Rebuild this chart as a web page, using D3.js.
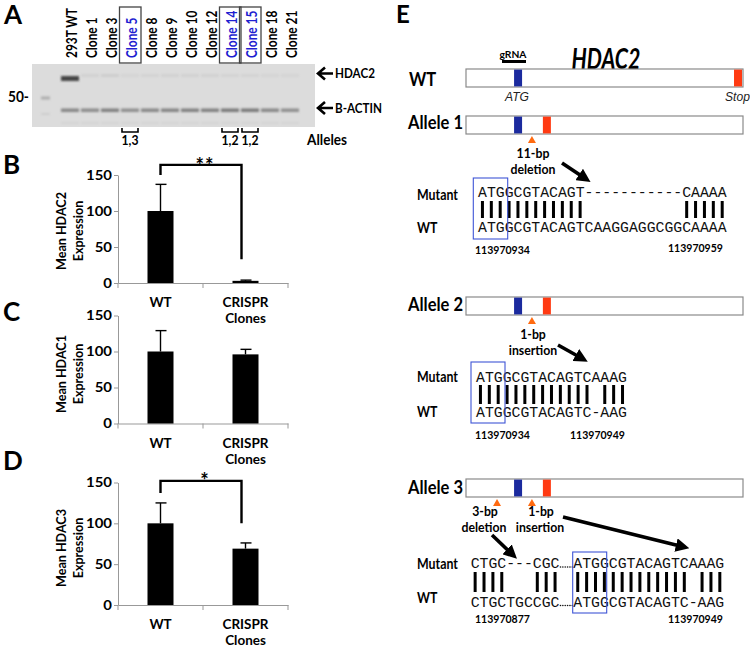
<!DOCTYPE html>
<html><head><meta charset="utf-8">
<script src="https://cdn.jsdelivr.net/npm/d3@7"></script>
<style>
body{margin:0;background:#fff}
svg{display:block}
</style></head>
<body><svg id="fig" width="750" height="646" font-family="Lato,'Open Sans',sans-serif"></svg>
<script>
// ---------------- DATA ----------------
// Panel A: western blot
const lanes = ["293T WT","Clone 1","Clone 3","Clone 5","Clone 8","Clone 9","Clone 10","Clone 12","Clone 14","Clone 15","Clone 18","Clone 21"];
const highlightedLanes = ["Clone 5","Clone 14","Clone 15"];
const hdac2Band = [0.8,0.06,0.08,0.04,0.05,0.06,0.06,0.06,0.05,0.05,0.04,0.04];
const actinBand = [0.45,0.42,0.48,0.4,0.44,0.46,0.48,0.48,0.52,0.52,0.44,0.4];
const bracketLanes = ["Clone 5","Clone 14","Clone 15"];
const bracketLabels = ["1,3","1,2","1,2"];
const blotMarkers = ["HDAC2","B-ACTIN"];
const ladderLabel = "50-";

// Panels B-D: bar charts
const groups = ["WT","CRISPR Clones"];
const yTicks = [0,50,100,150];
const hdac2Mean = [100,3],  hdac2Err = [37,1];
const hdac1Mean = [100,96], hdac1Err = [29,7];
const hdac3Mean = [100,69], hdac3Err = [25,7];

// Panel E: gene schematic and alignments
const geneRows = ["WT","Allele 1","Allele 2","Allele 3"];
const atgPos = 18.8;                 // gene units (0-100)
const stopPos = [98.2,29.2,29.2,29.2];
const mutationMarks = [[],[23.8],[23.8],[11.2,23.8]];
const mutationText = [[],["11-bp","deletion"],["1-bp","insertion"],["3-bp","deletion","1-bp","insertion"]];
const alignMutant = [["ATGGCGTACAGT-----------CAAAA"],["ATGGCGTACAGTCAAAG"],["CTGC---CGC","ATGGCGTACAGTCAAAG"]];
const alignWT     = [["ATGGCGTACAGTCAAGGAGGCGGCAAAA"],["ATGGCGTACAGTC-AAG"],["CTGCTGCCGC","ATGGCGTACAGTC-AAG"]];
const coordLabels = [["113970934","113970959"],["113970934","113970949"],["113970877","113970949"]];

// ---------------- HELPERS ----------------
const svg = d3.select("#fig");
const F = "Lato,'Open Sans',sans-serif";
const MONO = "'Liberation Mono','Courier New',monospace";
const ARIAL = "'Liberation Sans',Arial,sans-serif";
function fit(str, width, o={}) {
  const t = svg.append("text").attr("font-family",o.family||F).attr("font-weight",o.weight||"bold")
    .attr("font-style",o.style||"normal").attr("font-size",100).text(str);
  const w = t.node().getComputedTextLength(); t.remove();
  return 100*width/w;
}
function T(parent, str, x, y, o={}) {
  const t = parent.append("text").attr("font-family",o.family||F).attr("font-weight",o.weight||"bold")
    .attr("font-style",o.style||"normal").attr("text-anchor",o.anchor||"start").attr("fill",o.fill||"#000")
    .attr("font-size",o.size||14).text(str);
  t.attr("transform",`translate(${x},${y})`+(o.rotate?` rotate(${o.rotate})`:"")+(o.sy?` scale(1,${o.sy})`:""));
  return t;
}

// ---------------- DRAW ----------------
svg.append("rect").attr("width",750).attr("height",646).attr("fill","#fff");
const defs = svg.append("defs");
defs.append("filter").attr("id","blur").attr("x","-20%").attr("y","-100%").attr("width","140%").attr("height","300%")
  .append("feGaussianBlur").attr("stdDeviation",1.0);
defs.append("marker").attr("id","ah").attr("viewBox","0 0 10 10").attr("refX",6).attr("refY",5)
  .attr("markerWidth",3.8).attr("markerHeight",3.8).attr("orient","auto")
  .append("path").attr("d","M0,0 L10,5 L0,10 z").attr("fill","#000");

// panel letters
T(svg,"A",4,24,{size:26,sy:1.05}); T(svg,"B",3,174,{size:26}); T(svg,"C",3,321,{size:26});
T(svg,"D",3,470,{size:26}); T(svg,"E",396,23,{size:24,sy:1.05});

// ---- Panel A ----
const laneX = d3.scalePoint().domain(lanes).range([72,292]);
const sLane = fit("293T WT",50);
lanes.forEach(l => {
  const hl = highlightedLanes.includes(l);
  T(svg,l,laneX(l)+5,58,{size:sLane,rotate:-90,sy:1.2,fill:hl?"#1f1fd0":"#000"});
});
highlightedLanes.forEach(l => {
  svg.append("rect").attr("x",laneX(l)-12.5).attr("y",7).attr("width",21.5).attr("height",56)
    .attr("fill","none").attr("stroke","#444").attr("stroke-width",1.3);
});
// blot
svg.append("rect").attr("x",32).attr("y",64).attr("width",283).attr("height",63).attr("fill","#dcdcdc");
const bandColor = d3.scaleLinear().domain([0,1]).range(["#dcdcdc","#1e1e1e"]);
const bandG = svg.append("g").attr("filter","url(#blur)");
lanes.forEach((l,i) => {
  const cx = laneX(l)-2;
  bandG.append("rect").attr("x",cx-9).attr("y",i===0?76:74).attr("width",18).attr("height",i===0?5:3)
    .attr("fill",bandColor(hdac2Band[i]));
  bandG.append("rect").attr("x",cx-9).attr("y",108.5).attr("width",18).attr("height",3.5)
    .attr("fill",bandColor(actinBand[i]));
  bandG.append("rect").attr("x",cx-9).attr("y",122).attr("width",18).attr("height",2)
    .attr("fill",bandColor(0.05));
});
bandG.append("rect").attr("x",41).attr("y",96.5).attr("width",9).attr("height",3).attr("fill",bandColor(0.25));
bandG.append("rect").attr("x",41).attr("y",113).attr("width",9).attr("height",2).attr("fill",bandColor(0.08));
T(svg,ladderLabel,8,102,{size:fit("50-",21),sy:1.1});
// arrows to bands
const sMarker = fit("B-ACTIN",47);
[73.5,108].forEach((yy,i) => {
  svg.append("path").attr("d",`M333,${yy} L318,${yy} M325,${yy-6} L318,${yy} L325,${yy+6}`)
    .attr("stroke","#000").attr("stroke-width",2.6).attr("fill","none");
  T(svg,blotMarkers[i],335,yy+4.5,{size:sMarker,sy:1.1});
});
// allele brackets
const sNum = fit("1,3",17);
bracketLanes.forEach((l,i) => {
  const cx = laneX(l), x0 = cx-10, x1 = cx+6;
  svg.append("path").attr("d",`M${x0},128 L${x0},132 L${x1},132 L${x1},128`)
    .attr("stroke","#000").attr("stroke-width",1.6).attr("fill","none");
  T(svg,bracketLabels[i],(x0+x1)/2,144.5,{size:sNum,anchor:"middle",sy:1.15});
});
T(svg,"Alleles",307,144.5,{size:fit("Alleles",40),sy:1.12});

// ---- Panels B-D ----
const sTick = fit("150",26), sXlab = fit("CRISPR",46), sYlab = fit("Mean HDAC2",78);
function barPanel(p) {
  const g = svg.append("g");
  const y = d3.scaleLinear().domain([0,150]).range([p.y0,p.y150]);
  const x = d3.scaleBand().domain(groups).range([118,288]);
  const barW = 26;
  const ya = g.append("g").attr("transform","translate(118,0)")
    .call(d3.axisLeft(y).tickValues(yTicks).tickSize(4).tickSizeOuter(0).tickPadding(2));
  ya.select(".domain").attr("stroke","#999");
  ya.selectAll(".tick line").attr("stroke","#999");
  ya.selectAll("text").attr("font-family",F).attr("font-weight","bold").attr("font-size",sTick)
    .attr("fill","#000").attr("transform","scale(1,0.85)");
  const xa = g.append("g").attr("transform",`translate(0,${p.y0})`)
    .call(d3.axisBottom(x).tickSize(0).tickFormat("").tickSizeOuter(0));
  xa.select(".domain").attr("stroke","#999");
  [x.range()[0], x(groups[1]), x.range()[1]].forEach(xx => {
    g.append("line").attr("x1",xx).attr("x2",xx).attr("y1",p.y0).attr("y2",p.y0+5).attr("stroke","#999");
  });
  groups.forEach((gr,i) => {
    const cx = x(gr)+x.bandwidth()/2;
    g.append("rect").attr("x",cx-barW/2).attr("y",y(p.mean[i])).attr("width",barW)
      .attr("height",y(0)-y(p.mean[i])).attr("fill","#000");
    const top = y(p.mean[i]+p.err[i]);
    g.append("line").attr("x1",cx).attr("x2",cx).attr("y1",y(p.mean[i])).attr("y2",top).attr("stroke","#000").attr("stroke-width",1.4);
    g.append("line").attr("x1",cx-5).attr("x2",cx+6).attr("y1",top).attr("y2",top).attr("stroke","#000").attr("stroke-width",1.4);
    gr.split(" ").forEach((w,k) => T(g,w,cx,p.y0+24+k*16,{size:sXlab,anchor:"middle",sy:0.95}));
  });
  T(g,p.yLabel[0],66,p.yLabelY,{size:sYlab,anchor:"middle",rotate:-90,sy:1.05});
  T(g,p.yLabel[1],83,p.yLabelY,{size:sYlab,anchor:"middle",rotate:-90,sy:1.05});
  if (p.sig) {
    const cL = x(groups[0])+x.bandwidth()/2, cR = x(groups[1])+x.bandwidth()/2-4;
    g.append("path").attr("d",`M${cL},${y(p.sig.left)} L${cL},${y(p.sig.top)} L${cR},${y(p.sig.top)} L${cR},${y(p.sig.right)}`)
      .attr("stroke","#000").attr("stroke-width",2.4).attr("fill","none");
    g.append("text").attr("x",(cL+cR)/2+4).attr("y",y(p.sig.top)+p.sig.dy).attr("text-anchor","middle")
      .attr("font-family",F).attr("font-size",20).attr("font-weight","bold").attr("letter-spacing",1).text(p.sig.mark);
  }
}
barPanel({y0:283,y150:175,mean:hdac2Mean,err:hdac2Err,yLabel:["Mean HDAC2","Expression"],yLabelY:231,
  sig:{mark:"**",top:164,left:150,right:33,dy:8}});
barPanel({y0:423.5,y150:315.5,mean:hdac1Mean,err:hdac1Err,yLabel:["Mean HDAC1","Expression"],yLabelY:374});
barPanel({y0:605,y150:482.5,mean:hdac3Mean,err:hdac3Err,yLabel:["Mean HDAC3","Expression"],yLabelY:548,
  sig:{mark:"*",top:152,left:137,right:100,dy:7}});

// ---- Panel E ----
const geneX = d3.scaleLinear().domain([0,100]).range([466,743]);
const rowY = [69,116,297,479], rowH = 18;
const rowLabelY = [86,129,311,494];
T(svg,"HDAC2",606,69,{size:fit("HDAC2",69,{style:"italic"}),style:"italic",anchor:"middle",sy:1.3});
T(svg,"gRNA",513,58,{size:fit("gRNA",27),anchor:"middle"});
svg.append("line").attr("x1",502).attr("x2",526).attr("y1",61.5).attr("y2",61.5).attr("stroke","#000").attr("stroke-width",3);
const sRow = fit("Allele 1",55);
geneRows.forEach((r,i) => {
  T(svg,r,i===0?409:408,rowLabelY[i],{size:sRow,sy:1.18});
  svg.append("rect").attr("x",geneX(0)).attr("y",rowY[i]).attr("width",geneX(100)-geneX(0)).attr("height",rowH)
    .attr("fill","#fff").attr("stroke","#8a8a8a").attr("stroke-width",1.2);
  svg.append("rect").attr("x",geneX(atgPos)-4).attr("y",rowY[i]+0.6).attr("width",8).attr("height",rowH-1.2).attr("fill","#1b2a9e");
  svg.append("rect").attr("x",geneX(stopPos[i])-4).attr("y",rowY[i]+0.6).attr("width",8).attr("height",rowH-1.2).attr("fill","#ff3a12");
  mutationMarks[i].forEach(m => {
    const cx = geneX(m), ty = rowY[i]+rowH+2;
    svg.append("path").attr("d",`M${cx},${ty} L${cx+4},${ty+7} L${cx-4},${ty+7} Z`).attr("fill","#ff6a10");
  });
});
const sItal = fit("ATG",24,{family:ARIAL,weight:"normal",style:"italic"});
T(svg,"ATG",517,100.5,{size:sItal,family:ARIAL,weight:"normal",style:"italic",anchor:"middle",fill:"#222",sy:1.1});
T(svg,"Stop",725,100.5,{size:sItal,family:ARIAL,weight:"normal",style:"italic",fill:"#222",sy:1.1});

// mutation labels
const sMutLab = fit("deletion",45);
const mutLabelPos = [[],[[533,158],[533,174]],[[533,339],[533,355]],[[485,516],[484,532],[541,516],[540,532]]];
mutationText.forEach((arr,i) => arr.forEach((t,k) => T(svg,t,mutLabelPos[i][k][0],mutLabelPos[i][k][1],{size:sMutLab,anchor:"middle",sy:1.15})));
// arrows
const arrows = [[562,163,586,179],[558,345,583,359],[492,535,513,555],[563,517,684,547]];
arrows.forEach(a => svg.append("line").attr("x1",a[0]).attr("y1",a[1]).attr("x2",a[2]).attr("y2",a[3])
  .attr("stroke","#000").attr("stroke-width",3.6).attr("marker-end","url(#ah)"));

// alignments
const cw = 8.88;
const segStart = [[478],[476],[470.7,573.3]];
const mutBase = [197,382,568], wtBase = [232,416.5,606.5];
const barSpan = [[201,218],[385,404],[572,592]];
const blueBox = [[473.3,178,34.4,61],[471,362,34,61],[572.7,552,34,61]];
const coordPos = [[[475,254],[668,251.5]],[[475,439],[570,439]],[[475,622.5],[668,622.5]]];
const labelBase = [[200,233],[382,417],[569,603]];
const sMut = fit("Mutant",41), sCoord = fit("113970934",55);
alignMutant.forEach((segs,a) => {
  T(svg,"Mutant",417,labelBase[a][0],{size:sMut,sy:1.15});
  T(svg,"WT",417,labelBase[a][1],{size:sMut,sy:1.15});
  segs.forEach((s,k) => {
    const x0 = segStart[a][k], w = alignWT[a][k];
    svg.append("text").attr("x",x0).attr("y",mutBase[a]).attr("font-family",MONO).attr("font-size",cw/0.6).attr("fill","#111").text(s);
    svg.append("text").attr("x",x0).attr("y",wtBase[a]).attr("font-family",MONO).attr("font-size",cw/0.6).attr("fill","#111").text(w);
    for (let j=0;j<s.length;j++) {
      if (s[j]!=="-" && w[j]!=="-") {
        svg.append("rect").attr("x",x0+(j+0.5)*cw-1.5).attr("y",barSpan[a][0]).attr("width",3)
          .attr("height",barSpan[a][1]-barSpan[a][0]).attr("fill","#000");
      }
    }
  });
  if (segs.length>1) {
    const xa = segStart[a][0]+segs[0].length*cw, xb = segStart[a][1];
    [mutBase[a],wtBase[a]].forEach(b => {
      d3.range(6).forEach(k => svg.append("circle").attr("cx",xa+1+k*(xb-xa-2)/5).attr("cy",b-1).attr("r",0.8).attr("fill","#111"));
    });
  }
  const bb = blueBox[a];
  svg.append("rect").attr("x",bb[0]).attr("y",bb[1]).attr("width",bb[2]).attr("height",bb[3])
    .attr("fill","none").attr("stroke","#3f55d6").attr("stroke-width",1.1);
  coordLabels[a].forEach((c,k) => T(svg,c,coordPos[a][k][0],coordPos[a][k][1],{size:sCoord,sy:1.1}));
});
</script></body></html>
